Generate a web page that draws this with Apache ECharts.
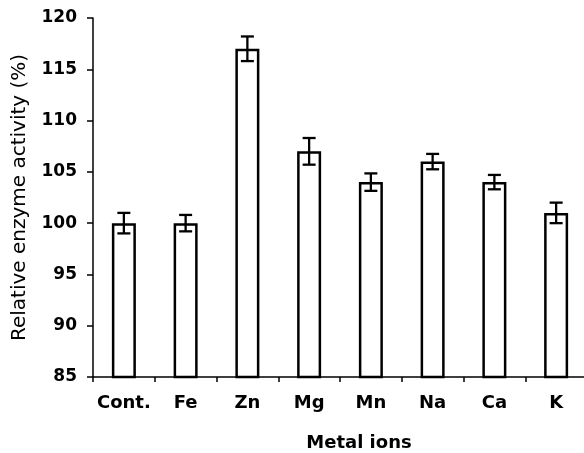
<!DOCTYPE html>
<html>
<head>
<meta charset="utf-8">
<script src="https://cdn.jsdelivr.net/npm/echarts@6/dist/echarts.min.js"></script>
<style>html,body{margin:0;padding:0;background:#fff;}#c{width:584px;height:453px;}</style>
</head>
<body>
<div id="c"></div>
<script>
const categories = ['Cont.', 'Fe', 'Zn', 'Mg', 'Mn', 'Na', 'Ca', 'K'];
const values = [100, 100, 117, 107, 104, 106, 104, 101];
const errors = [1.0, 0.8, 1.2, 1.3, 0.85, 0.75, 0.7, 1.0];
const yTicks = [85, 90, 95, 100, 105, 110, 115, 120];

const errData = values.map((v, i) => [i, v - errors[i], v + errors[i]]);

const chart = echarts.init(document.getElementById('c'), null, {renderer: 'canvas'});
chart.setOption({
  animation: false,
  backgroundColor: '#fff',
  grid: {left: 93, top: 18, width: 494, bottom: 76, containLabel: false, outerBoundsMode: 'none'},
  xAxis: {
    type: 'category',
    data: categories,
    boundaryGap: true,
    name: 'Metal ions',
    nameLocation: 'middle',
    nameGap: 57,
    nameTextStyle: {fontFamily: 'DejaVu Sans', fontWeight: 'bold', fontSize: 18, color: '#000', padding: [0, 0, 0, 38]},
    axisLine: {lineStyle: {color: '#000', width: 1.5}},
    axisTick: {show: true, inside: false, length: 5, interval: 0, lineStyle: {color: '#000', width: 1.5}},
    axisLabel: {interval: 0, fontFamily: 'DejaVu Sans', fontWeight: 'bold', fontSize: 18, color: '#000', margin: 17},
    splitLine: {show: false}
  },
  yAxis: {
    type: 'value',
    min: yTicks[0],
    max: yTicks[yTicks.length - 1],
    interval: 5,
    name: 'Relative enzyme activity (%)',
    nameLocation: 'middle',
    nameGap: 63,
    nameRotate: 90,
    nameTextStyle: {fontFamily: 'DejaVu Sans', fontSize: 20, color: '#000'},
    axisLine: {show: true, lineStyle: {color: '#000', width: 1.5}},
    axisTick: {show: true, inside: false, length: 6, lineStyle: {color: '#000', width: 1.5}},
    axisLabel: {fontFamily: 'DejaVu Sans', fontWeight: 'bold', fontSize: 17, color: '#000', margin: 16},
    splitLine: {show: false}
  },
  series: [
    {
      type: 'bar',
      data: values,
      barWidth: 24,
      itemStyle: {color: '#fff', borderColor: '#000', borderWidth: 2.5}
    },
    {
      type: 'custom',
      data: errData,
      encode: {x: 0, y: [1, 2]},
      z: 10,
      renderItem: function (params, api) {
        const x = api.value(0);
        const lo = api.coord([x, api.value(1)]);
        const hi = api.coord([x, api.value(2)]);
        const hw = 6.5;
        const style = {stroke: '#000', lineWidth: 2.3, fill: null};
        return {
          type: 'group',
          children: [
            {type: 'line', shape: {x1: hi[0], y1: hi[1], x2: lo[0], y2: lo[1]}, style: style},
            {type: 'line', shape: {x1: hi[0] - hw, y1: hi[1], x2: hi[0] + hw, y2: hi[1]}, style: style},
            {type: 'line', shape: {x1: lo[0] - hw, y1: lo[1], x2: lo[0] + hw, y2: lo[1]}, style: style}
          ]
        };
      }
    }
  ]
});
</script>
</body>
</html>
